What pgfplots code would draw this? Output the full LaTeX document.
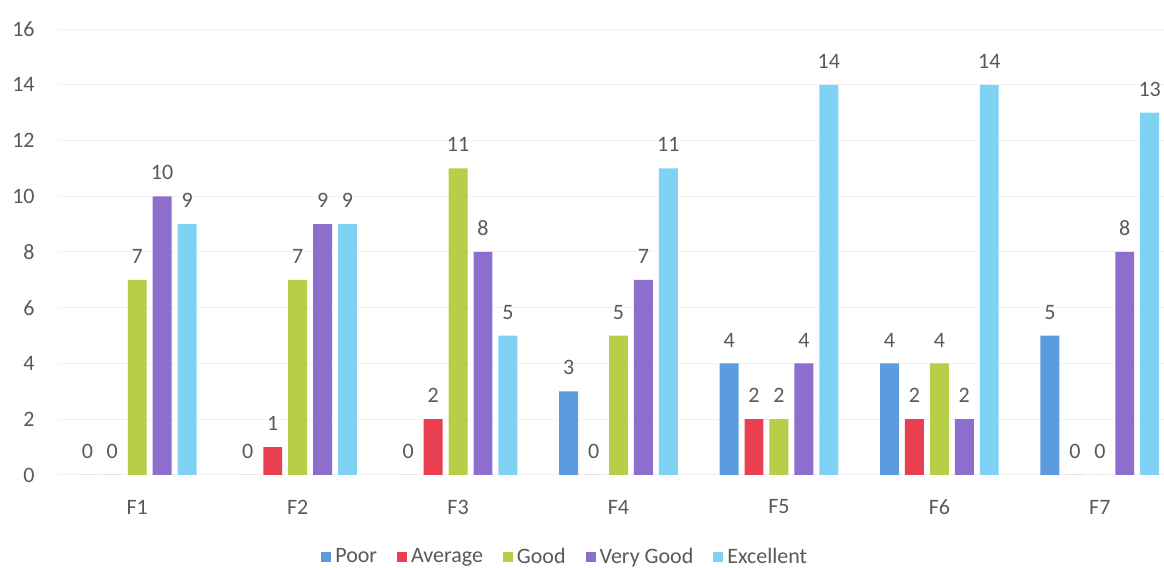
\documentclass[border=0pt]{standalone}
\usepackage{fontspec}
\setmainfont{Carlito}
\usepackage{pgfplots}
\pgfplotsset{compat=1.18}
\definecolor{cPoor}{RGB}{91,155,222}
\definecolor{cAvg}{RGB}{232,64,80}
\definecolor{cGood}{RGB}{182,206,72}
\definecolor{cVG}{RGB}{142,110,204}
\definecolor{cExc}{RGB}{128,210,245}
\definecolor{txt}{RGB}{89,89,89}
\begin{document}
\begin{tikzpicture}
\path[use as bounding box] (0,0) rectangle (582pt,284pt);
\begin{axis}[
  at={(28.5pt,46.5pt)}, anchor=south west,
  scale only axis, width=553.5pt, height=223pt,
  xmin=0.5, xmax=7.4, ymin=0, ymax=16,
  ytick={0,2,...,16},
  xtick={1,...,7}, xticklabels={F1,F2,F3,F4,F5,F6,F7},
  axis line style={draw=none},
  major tick length=0pt,
  ymajorgrids, grid style={gray!10, line width=0.5pt},
  /pgf/number format/assume math mode=true,
  tick label style={font=\fontsize{11}{13}\selectfont, text=txt},
  yticklabel style={anchor=east, inner sep=0pt, xshift=-11pt},
  xticklabel style={anchor=center, inner sep=0pt, yshift=-16pt},
  ybar=3pt, bar width=0.118,
  clip=false,
  nodes near coords,
  every node near coord/.append style={font=\fontsize{11}{13}\selectfont, text=txt, anchor=south, inner sep=0pt, yshift=8pt},
  legend columns=-1,
  legend style={at={(0.46,-0.184)}, anchor=center, draw=none, fill=none,
    font=\fontsize{11}{13}\selectfont, text=txt,
    /tikz/every even column/.append style={column sep=8pt}},
  legend image code/.code={\fill[#1] (0pt,-2.5pt) rectangle (5pt,2.5pt);},
]
\addplot[fill=cPoor, draw=none] coordinates {(1,0) (2,0) (3,0) (4,3) (5,4) (6,4) (7,5)};
\addplot[fill=cAvg, draw=none] coordinates {(1,0) (2,1) (3,2) (4,0) (5,2) (6,2) (7,0)};
\addplot[fill=cGood, draw=none] coordinates {(1,7) (2,7) (3,11) (4,5) (5,2) (6,4) (7,0)};
\addplot[fill=cVG, draw=none] coordinates {(1,10) (2,9) (3,8) (4,7) (5,4) (6,2) (7,8)};
\addplot[fill=cExc, draw=none] coordinates {(1,9) (2,9) (3,5) (4,11) (5,14) (6,14) (7,13)};
\legend{Poor, Average, Good, Very Good, Excellent}
\end{axis}
\end{tikzpicture}
\end{document}
